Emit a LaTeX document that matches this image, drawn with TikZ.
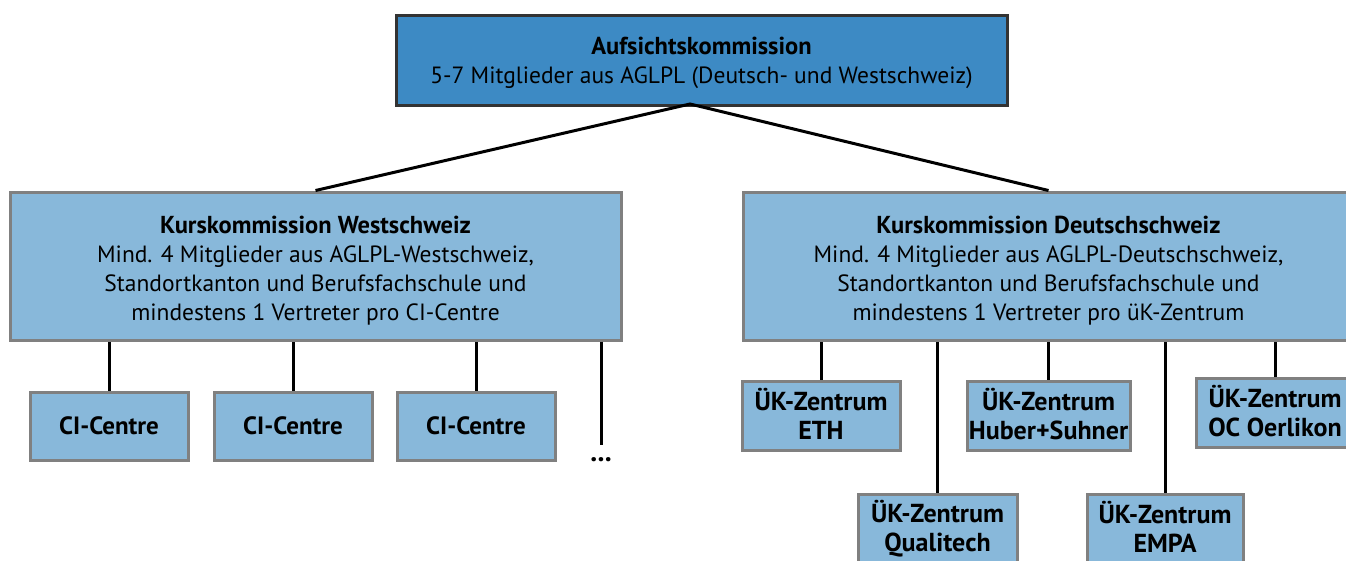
\documentclass[tikz,border=0pt]{standalone}
\usepackage{fontspec}
\setmainfont{PT Sans}
\usetikzlibrary{calc}
\definecolor{topblue}{HTML}{3D8AC4}
\definecolor{lightblue}{HTML}{88B8DA}
\definecolor{topborder}{HTML}{333333}
\definecolor{boxborder}{HTML}{808080}
\newcommand{\hd}[1]{{\fontsize{24.5}{29}\selectfont\bfseries #1}}
\newcommand{\upstrut}[1]{\rule{0pt}{#1}}
\newcommand{\dnstrut}[1]{\rule[-#1]{0pt}{0pt}}
\tikzset{
  base/.style={rectangle, inner sep=0pt, align=center, font=\fontsize{23.5}{29}\selectfont, line width=3pt},
  topbox/.style={base, fill=topblue, draw=topborder},
  subbox/.style={base, fill=lightblue, draw=boxborder},
  conn/.style={line width=3pt, draw=black},
}
\begin{document}
\begin{tikzpicture}[x=1pt,y=-1pt]
\useasboundingbox (0,0) rectangle (1346,560);
\clip (0,0) rectangle (1346,560);
\node[topbox, minimum width=611pt, minimum height=90pt] (top) at (701.5,60) {\upstrut{22.5pt}\hd{Aufsichtskommission}\\5-7 Mitglieder aus AGLPL (Deutsch- und Westschweiz)};
\coordinate (apex) at (690,104);
\node[subbox, minimum width=611pt, minimum height=148pt] (west) at (315.5,266) {\upstrut{27.5pt}\hd{Kurskommission Westschweiz}\\Mind. 4 Mitglieder aus AGLPL-Westschweiz,\\Standortkanton und Berufsfachschule und\\mindestens 1 Vertreter pro CI-Centre};
\node[subbox, minimum width=611pt, minimum height=148pt] (deutsch) at (1048.5,266) {\upstrut{27.5pt}\hd{Kurskommission Deutschschweiz}\\Mind. 4 Mitglieder aus AGLPL-Deutschschweiz,\\Standortkanton und Berufsfachschule und\\mindestens 1 Vertreter pro üK-Zentrum};
\draw[conn] (west.north) -- (apex) -- (deutsch.north);
% CI centres
\foreach \i/\x in {1/109,2/293,3/476}{
  \node[subbox, font=\fontsize{25}{29}\selectfont\bfseries, minimum width=158pt, minimum height=68pt] (ci\i) at (\x,426) {CI-Centre};
  \draw[conn] (ci\i.north) -- (ci\i.north |- west.south);
}
\coordinate (dotsend) at (601,445);
\node[font=\fontsize{28}{29}\selectfont\bfseries, inner sep=0pt] (dots) at (601,460) {...};
\draw[conn] (dotsend |- west.south) -- (dotsend);
% UK centres
\tikzset{uk/.style={subbox, font=\fontsize{26}{29}\selectfont\bfseries, minimum height=69pt}}
\node[uk, minimum width=158pt] (eth) at (821,415.5) {ÜK-Zentrum\\ETH\dnstrut{4pt}};
\node[uk, minimum width=163pt] (huber) at (1048.5,415.5) {ÜK-Zentrum\\Huber+Suhner\dnstrut{4pt}};
\node[uk, minimum width=158pt] (oc) at (1275,413) {ÜK-Zentrum\\OC Oerlikon\dnstrut{4pt}};
\node[uk, minimum width=159pt] (quali) at (937.5,528.5) {ÜK-Zentrum\\Qualitech\dnstrut{4pt}};
\node[uk, minimum width=156pt] (empa) at (1165,528.5) {ÜK-Zentrum\\EMPA\dnstrut{4pt}};
\foreach \n in {eth,huber,oc,quali,empa}{
  \draw[conn] (\n.north) -- (\n.north |- deutsch.south);
}
\end{tikzpicture}
\end{document}
